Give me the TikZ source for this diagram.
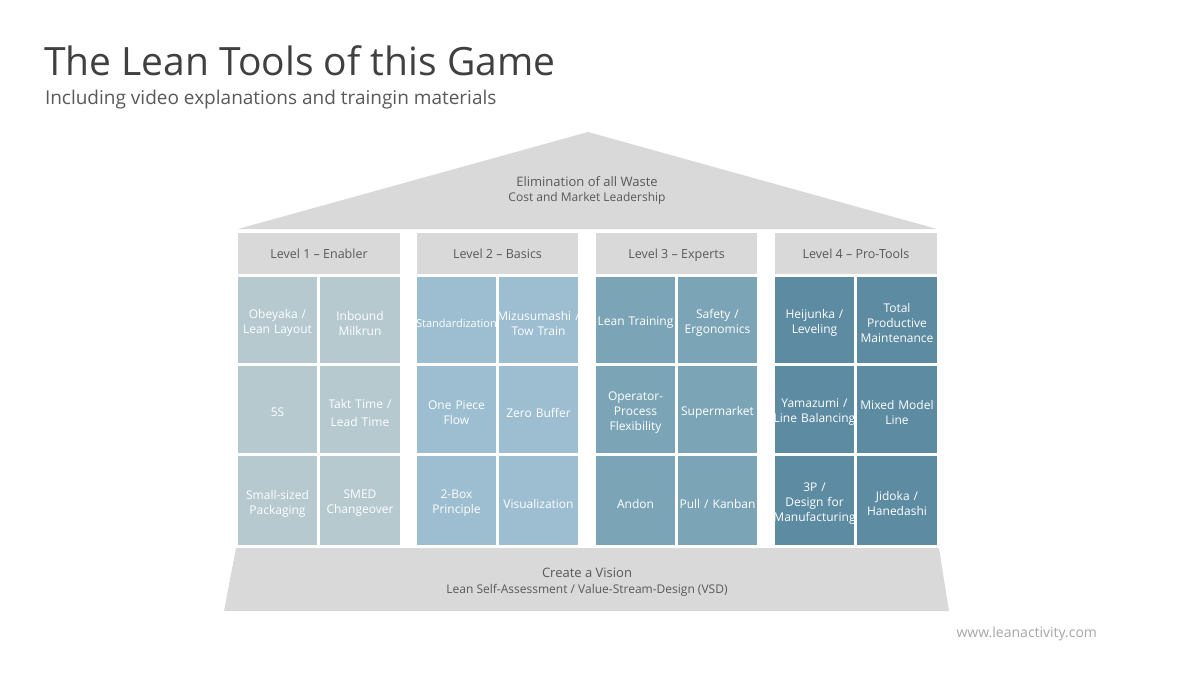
\documentclass[tikz,border=0pt]{standalone}
\usepackage{fontspec}
\setmainfont{Open Sans}
\newcommand{\wide}[1]{\makebox[\linewidth][c]{#1}}
% \cellnode{name}{x}{y}{width}{height}{colour}{text}
\newcommand{\cellnode}[7]{%
  \node[cellfill, fill=#6, minimum width=#4pt, minimum height=#5pt] (#1) at (#2,#3) {};
  \node[celltext, text width=#4pt] (#1t) at ([yshift=-3pt]#1.center) {#7};}
\begin{document}
\begin{tikzpicture}[x=1pt,y=-1pt,
  every node/.style={inner sep=0pt, outer sep=0pt},
  cellfill/.style={anchor=north west},
  celltext/.style={align=center, text=white, font=\fontsize{12}{15}\selectfont},
  headbox/.style={anchor=north west, fill=hgray, text=tgray,
    font=\fontsize{12.5}{15}\selectfont,
    minimum height=41pt, text height=12pt, text depth=3pt},
  lbl/.style={text=tgray, anchor=base},
]
\definecolor{hgray}{HTML}{D9D9D9}
\definecolor{tgray}{HTML}{595959}
\definecolor{cA}{HTML}{B5C9CF}
\definecolor{cB}{HTML}{9CBED0}
\definecolor{cC}{HTML}{7BA5B7}
\definecolor{cD}{HTML}{5D8BA2}
\useasboundingbox (0,0) rectangle (1200,675);
\fill[white] (0,0) rectangle (1200,675);

% title
\node[anchor=base west, text=black!75, font=\fontsize{39}{44}\selectfont] (title) at (44,75) {The Lean Tools of this Game};
\node[anchor=base west, text=tgray, font=\fontsize{19}{22}\selectfont] (subtitle) at (45,104) {Including video explanations and traingin materials};

% roof
\fill[hgray] (238,229) -- (588,132) -- (937,229) -- cycle;
\node[lbl, font=\fontsize{13}{16}\selectfont] (roof) at (587,186) {Elimination of all Waste};
\node[lbl, font=\fontsize{12}{15}\selectfont] (roof2) at (587,201) {Cost and Market Leadership};

% headers
\node[headbox, minimum width=162pt] (h1) at (238,233) {Level 1 -- Enabler};
\node[headbox, minimum width=161pt] (h2) at (417,233) {Level 2 -- Basics};
\node[headbox, minimum width=161pt] (h3) at (596,233) {Level 3 -- Experts};
\node[headbox, minimum width=162pt] (h4) at (775,233) {Level 4 -- Pro-Tools};

% column 1
\cellnode{a11}{238}{277}{79}{86}{cA}{Obeyaka /\\Lean Layout}
\cellnode{a12}{320}{277}{80}{86}{cA}{Inbound\\Milkrun}
\cellnode{a21}{238}{366}{79}{87}{cA}{5S}
\cellnode{a22}{320}{366}{80}{87}{cA}{Takt Time /\\[3pt]Lead Time}
\cellnode{a31}{238}{456}{79}{89}{cA}{Small-sized\\Packaging}
\cellnode{a32}{320}{456}{80}{89}{cA}{SMED\\Changeover}

% column 2
\cellnode{b11}{417}{277}{79}{86}{cB}{\fontsize{11}{14}\selectfont\wide{Standardization}}
\cellnode{b12}{499}{277}{79}{86}{cB}{\wide{Mizusumashi /}\\Tow Train}
\cellnode{b21}{417}{366}{79}{87}{cB}{One Piece\\Flow}
\cellnode{b22}{499}{366}{79}{87}{cB}{Zero Buffer}
\cellnode{b31}{417}{456}{79}{89}{cB}{2-Box\\Principle}
\cellnode{b32}{499}{456}{79}{89}{cB}{Visualization}

% column 3
\cellnode{c11}{596}{277}{79}{86}{cC}{Lean Training}
\cellnode{c12}{678}{277}{79}{86}{cC}{Safety /\\Ergonomics}
\cellnode{c21}{596}{366}{79}{87}{cC}{Operator-\\Process\\Flexibility}
\cellnode{c22}{678}{366}{79}{87}{cC}{Supermarket}
\cellnode{c31}{596}{456}{79}{89}{cC}{Andon}
\cellnode{c32}{678}{456}{79}{89}{cC}{Pull / Kanban}

% column 4
\cellnode{d11}{775}{277}{79}{86}{cD}{Heijunka /\\Leveling}
\cellnode{d12}{857}{277}{80}{86}{cD}{Total\\Productive\\Maintenance}
\cellnode{d21}{775}{366}{79}{87}{cD}{Yamazumi /\\\wide{Line Balancing}}
\cellnode{d22}{857}{366}{80}{87}{cD}{Mixed Model\\Line}
\cellnode{d31}{775}{456}{79}{89}{cD}{3P /\\Design for\\\wide{Manufacturing}}
\cellnode{d32}{857}{456}{80}{89}{cD}{Jidoka /\\Hanedashi}

% base
\fill[hgray] (236,548) -- (939,548) -- (949,611) -- (224,611) -- cycle;
\node[lbl, font=\fontsize{13}{16}\selectfont] (base) at (587,577) {Create a Vision};
\node[lbl, font=\fontsize{12}{15}\selectfont] (base2) at (587,593) {Lean Self-Assessment / Value-Stream-Design (VSD)};

% footer
\node[anchor=base east, text=black!35, font=\fontsize{14}{17}\selectfont] (footer) at (1097,637) {www.leanactivity.com};
\end{tikzpicture}
\end{document}
